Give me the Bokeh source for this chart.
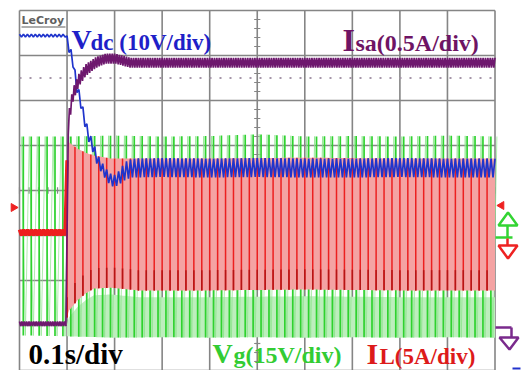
import numpy as np
from bokeh.plotting import figure
from bokeh.models import Range1d, Label
from bokeh.embed import file_html
from bokeh.resources import INLINE

# ------------------------------------------------------------------
# Oscilloscope screen: 10 x 8 divisions, 0.1 s/div, step at 1.0 div
# All trace values below are read off the picture, in screen divisions
# ------------------------------------------------------------------
CYCLES_PER_DIV = 6          # 60 Hz grid quantities at 0.1 s/div

# Vg (green, 15 V/div): envelope of the sinusoid
vg_t   = [0, 1, 2, 3, 4, 5, 6, 7, 8, 9, 10]
vg_top = [1.20, 1.20, 1.22, 1.20, 1.21, 1.25, 1.20, 1.21, 1.20, 1.22, 1.20]
vg_bot = [-3.22, -3.24, -3.27, -3.26, -3.27, -3.26, -3.27, -3.26, -3.27, -3.26, -3.27]

# IL (red, 5 A/div): envelope of the inductor current
il_t   = [0, 0.99, 1.00, 1.04, 1.22, 1.39, 1.56, 1.92, 2.5, 4, 6, 8, 10]
il_top = [-0.87, -0.87, 0.67, 1.07, 0.93, 0.84, 0.78, 0.71, 0.71, 0.71, 0.73, 0.71, 0.71]
il_bot = [-1.00, -1.00, -2.82, -2.67, -2.44, -2.29, -2.18, -2.16, -2.22, -2.22, -2.20, -2.22, -2.22]

# Vdc (blue, 10 V/div): mean level and ripple half-width
vdc_t   = [0, 0.99, 1.03, 1.12, 1.20, 1.28, 1.37, 1.45, 1.56, 1.64, 1.77, 1.87, 1.98,
           2.08, 2.23, 2.38, 3, 4, 5, 6, 7, 8, 9, 10]
vdc_mid = [3.44, 3.44, 3.22, 2.89, 2.33, 2.00, 1.56, 1.22, 0.93, 0.67, 0.44, 0.29, 0.20,
           0.27, 0.44, 0.50, 0.51, 0.50, 0.51, 0.50, 0.50, 0.51, 0.50, 0.50]
vdc_rip = [0.03, 0.03, 0.11, 0.11, 0.12, 0.12, 0.12, 0.12, 0.12, 0.12, 0.12, 0.12, 0.13,
           0.15, 0.20, 0.21, 0.21, 0.21, 0.21, 0.21, 0.21, 0.21, 0.21, 0.21]

# Isa (purple, 0.5 A/div): mean level and ripple half-width
isa_t   = [0, 0.99, 1.01, 1.03, 1.12, 1.24, 1.39, 1.60, 1.81, 2.02, 2.33, 3, 10]
isa_mid = [-2.96, -2.96, 0.89, 1.56, 2.11, 2.44, 2.67, 2.84, 2.93, 2.93, 2.84, 2.84, 2.84]
isa_rip = [0.05, 0.05, 0.15, 0.15, 0.15, 0.14, 0.13, 0.12, 0.11, 0.11, 0.11, 0.11, 0.11]

isa_ref = 2.5               # dotted reference level of Isa

# ------------------------------------------------------------------
PX = 47.55   # pixels per horizontal division
PY = 45.0    # pixels per vertical division
def X(px):   # picture pixel -> division (for placing annotations)
    return (px - 19) / PX
def Y(py):
    return (190 - py) / PY

def trace(t_key, hi_key, lo_key, pts_per_div, t0=0.0, t1=10.0):
    t = np.arange(round(t0 * pts_per_div), round(t1 * pts_per_div) + 1) / pts_per_div
    hi = np.interp(t, t_key, hi_key)
    lo = np.interp(t, t_key, lo_key)
    y = np.where(np.arange(len(t)) % 2 == 0, hi, lo)
    return t, y

def strokes(t_key, hi_key, lo_key, t0, t1, shift):
    t = np.arange(round(t0 * CYCLES_PER_DIV), round(t1 * CYCLES_PER_DIV)) / CYCLES_PER_DIV + shift
    return t, np.interp(t, t_key, lo_key), np.interp(t, t_key, hi_key)

p = figure(width=525, height=370, output_backend="svg", toolbar_location=None,
           x_range=Range1d(X(0), X(525)), y_range=Range1d(Y(370), Y(0)),
           min_border=0, min_border_left=0, min_border_right=0,
           min_border_top=0, min_border_bottom=0)
p.xaxis.visible = False
p.yaxis.visible = False
p.grid.visible = False
p.outline_line_color = None
p.background_fill_color = "white"
p.border_fill_color = "white"

GRID = "#858585"
# graticule
p.segment(x0=list(range(11)), y0=[-4] * 11, x1=list(range(11)), y1=[4] * 11,
          line_color=GRID, line_width=1.6)
p.segment(x0=[0] * 9, y0=list(range(-4, 5)), x1=[10] * 9, y1=list(range(-4, 5)),
          line_color=GRID, line_width=1.6)
ty = np.arange(-4, 4.01, 0.2)
p.segment(x0=5 - 0.065, y0=ty, x1=5 + 0.065, y1=ty, line_color=GRID, line_width=1.2)
tx = np.arange(0, 10.01, 0.2)
p.segment(x0=tx, y0=-0.07, x1=tx, y1=0.07, line_color=GRID, line_width=1.2)

# Isa reference (dotted)
p.line([0, 10], [isa_ref, isa_ref], line_color="#a595a8", line_width=2, line_dash="2 8")

# Vg
tg = np.linspace(1.0, 10, 400)
p.varea(x=tg, y1=np.interp(tg, vg_t, vg_bot), y2=np.interp(tg, il_t, il_bot) - 0.15,
        fill_color="#bdeebd")
t, y = trace(vg_t, vg_top, vg_bot, 2 * CYCLES_PER_DIV)
p.line(t + 0.04, y, line_color="#8ee48e", line_width=0.7)
t, y0, y1 = strokes(vg_t, vg_top, vg_bot, 0, 10, 0.08)
p.segment(x0=t, y0=y0, x1=t, y1=y1, line_color="#2fd22f", line_width=1.7)

# IL
tr = np.linspace(1.0, 10, 600)
p.varea(x=tr, y1=np.interp(tr, il_t, il_bot), y2=np.interp(tr, il_t, il_top),
        fill_color="#f4a3a3")
t, y = trace(il_t, il_top, il_bot, 4 * CYCLES_PER_DIV, 0, 1.0)
p.line(t, y, line_color="#ee1e1e", line_width=3.5)
t, y0, y1 = strokes(il_t, il_top, il_bot, 1.0, 10, 0.0)
p.segment(x0=t, y0=y0, x1=t, y1=y1, line_color="#ec2020", line_width=1.5)
p.segment(x0=t, y0=y0, x1=t, y1=y0 + 0.45, line_color="#b51515", line_width=1.5)

# Vdc
hi = np.array(vdc_mid) + np.array(vdc_rip)
lo = np.array(vdc_mid) - np.array(vdc_rip)
t, y = trace(vdc_t, hi, lo, 24)
p.line(t, y, line_color="#1f34cc", line_width=1.7)

# Isa
hi = np.array(isa_mid) + np.array(isa_rip)
lo = np.array(isa_mid) - np.array(isa_rip)
t, y = trace(isa_t, hi, lo, 40)
p.line(t, y, line_color="#6e186e", line_width=1.7)

# channel markers
RED, GREEN, PURPLE = "#ee2222", "#33d433", "#7a2a8c"
p.scatter([X(501)], [Y(205)], marker="triangle", size=8, angle=np.pi / 2,
          fill_color=RED, line_color=RED)
p.scatter([X(13)], [Y(207)], marker="triangle", size=8, angle=-np.pi / 2,
          fill_color=RED, line_color=RED)
p.line([X(495), X(512)], [Y(237), Y(237)], line_color=GREEN, line_width=2.5)
p.line([X(507), X(507)], [Y(237), Y(225)], line_color=GREEN, line_width=2.5)
p.patch([X(498), X(517), X(507.5)], [Y(225), Y(225), Y(212)],
        fill_color="white", line_color=GREEN, line_width=2.5)
p.line([X(507), X(507)], [Y(238), Y(245)], line_color=RED, line_width=2.5)
p.patch([X(498), X(517), X(507.5)], [Y(245), Y(245), Y(258)],
        fill_color="white", line_color=RED, line_width=2.5)
p.line([X(495), X(511)], [Y(327), Y(327)], line_color=PURPLE, line_width=2.5)
p.line([X(511), X(511)], [Y(327), Y(337)], line_color=PURPLE, line_width=2.5)
p.patch([X(499), X(518), X(509)], [Y(337), Y(337), Y(349)],
        fill_color="white", line_color=PURPLE, line_width=2.5)
p.line([X(512), X(520)], [Y(368), Y(368)], line_color="#2233cc", line_width=2)

# texts (py = wanted baseline in picture pixels)
def lab(px, py, text, size, color, font="Liberation Serif", style="bold"):
    p.add_layout(Label(x=X(px), y=Y(py - 0.32 * size), text=text, text_font=font,
                       text_font_size=f"{size}px", text_font_style=style,
                       text_color=color, text_baseline="alphabetic", text_align="left"))

BLUE_T, PURP_T, GREEN_T, RED_T = "#1f1fc8", "#6e1464", "#33cc33", "#dd1a1a"
lab(21, 24, "LeCroy", 11, "#5f5f5f", font="DejaVu Sans")
p.line([X(21), X(65)], [Y(26.5), Y(26.5)], line_color="#5f5f5f", line_width=1.2)
lab(71, 48, "V", 28, BLUE_T)
lab(90, 49, "dc (10V/div)", 23, BLUE_T)
lab(342, 50, "I", 32, PURP_T)
lab(355, 50, "sa(0.5A/div)", 24, PURP_T)
lab(28, 363, "0.1s/div", 29, "black")
lab(212, 362, "V", 28, GREEN_T)
lab(233, 362, "g(15V/div)", 24, GREEN_T)
lab(366, 363, "I", 30, RED_T)
lab(379, 363, "L(5A/div)", 23, RED_T)

open("out.html", "w").write(file_html(p, INLINE))
